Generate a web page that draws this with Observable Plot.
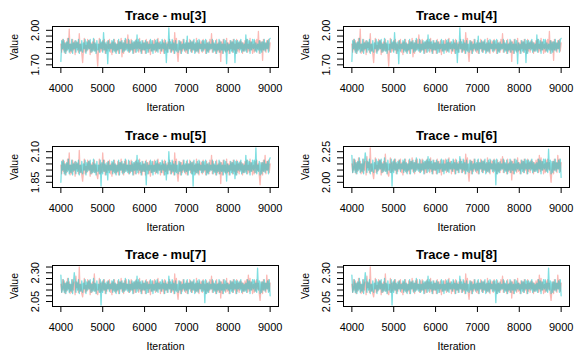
<!DOCTYPE html>
<html><head><meta charset="utf-8">
<script src="https://cdn.jsdelivr.net/npm/d3@7"></script>
<script src="https://cdn.jsdelivr.net/npm/@observablehq/plot@0.6"></script>
<style>
html,body{margin:0;padding:0;background:#fff;}
#grid{position:relative;width:582px;height:359px;overflow:hidden;}
.panel{position:absolute;}
</style></head><body><div id="grid"></div>
<script>
const iterStart = 4000, iterEnd = 9000;
const xTicks = [4000, 5000, 6000, 7000, 8000, 9000];
const chainNames = ["chain 1", "chain 2"];
const chainColors = ["#F8766D", "#00BFC4"];

const mu3_chain1 = [1.88,1.81,1.92,1.83,1.91,1.80,1.89,1.82,1.93,1.84,
 2.01,1.80,1.88,1.81,1.92,1.83,1.90,1.79,1.91,1.85,
 1.89,1.81,1.97,1.82,1.88,1.80,1.72,1.83,1.93,1.81,
 1.87,1.82,1.92,1.84,1.91,1.79,1.89,1.81,1.90,1.83,
 1.92,1.82,1.88,1.80,1.69,1.84,1.93,1.81,1.89,1.82,
 1.91,1.83,1.92,1.80,1.88,1.82,1.91,1.84,1.92,1.81,
 1.89,1.79,1.90,1.83,1.92,1.81,1.88,1.82,1.91,1.80,
 1.90,1.84,1.93,1.77,1.89,1.80,1.91,1.83,1.92,1.84,
 1.96,1.81,1.91,1.82,1.92,1.83,1.89,1.80,1.90,1.81,
 1.92,1.84,1.90,1.81,1.93,1.82,1.88,1.80,1.91,1.83,
 1.89,1.80,1.92,1.84,1.90,1.81,1.91,1.79,1.88,1.82,
 1.91,1.83,1.92,1.81,1.89,1.82,1.93,1.84,1.90,1.80,
 1.88,1.82,1.91,1.80,1.92,1.83,1.89,1.81,1.90,1.84,
 1.92,1.81,1.88,1.82,1.91,1.80,1.98,1.83,1.93,1.81,
 1.73,1.84,1.91,1.80,1.90,1.82,1.92,1.83,1.88,1.81,
 1.91,1.80,1.89,1.84,1.92,1.82,1.90,1.81,1.91,1.83,
 1.88,1.81,1.93,1.82,1.89,1.80,1.91,1.84,1.90,1.81,
 1.92,1.83,1.88,1.80,1.91,1.82,1.89,1.81,1.92,1.84,
 1.97,1.81,1.91,1.83,1.88,1.80,1.92,1.82,1.89,1.81,
 1.91,1.73,1.90,1.80,1.92,1.83,1.88,1.81,1.93,1.82,
 1.89,1.80,1.91,1.84,1.90,1.81,1.92,1.83,1.88,1.80,
 1.92,1.82,1.89,1.81,1.91,1.84,1.90,1.80,1.89,1.82,
 1.91,1.83,1.92,1.81,1.88,1.82,1.93,1.83,1.90,1.80,
 1.88,1.81,1.91,1.82,1.92,1.84,1.99,1.80,1.91,1.83,
 1.90,1.74,1.92,1.83,1.89,1.81,1.91,1.84,1.92,1.82,
 1.89];
const mu3_chain2 = [1.73,1.91,1.84,1.92,1.81,1.89,1.80,1.90,1.83,1.93,
 1.81,1.88,1.82,1.92,1.80,1.89,1.84,1.91,1.81,1.90,
 1.83,1.92,1.80,1.88,1.82,1.91,1.81,1.89,1.84,1.92,
 1.80,1.90,1.83,1.91,1.84,1.92,1.81,1.88,1.82,1.93,
 1.82,1.89,1.80,1.91,1.83,1.88,1.81,1.92,1.84,1.90,
 1.81,1.98,1.83,1.89,1.80,1.90,1.71,1.91,1.82,1.88,
 1.84,1.91,1.81,1.92,1.82,1.89,1.80,1.88,1.83,1.92,
 1.80,1.90,1.84,1.91,1.81,1.89,1.82,1.93,1.83,1.88,
 1.82,1.92,1.81,1.88,1.83,1.91,1.80,1.90,1.84,1.91,
 1.81,1.96,1.82,1.92,1.84,1.90,1.80,1.91,1.83,1.89,
 1.83,1.91,1.80,1.90,1.81,1.88,1.84,1.92,1.82,1.91,
 1.80,1.88,1.83,1.91,1.82,1.92,1.81,1.89,1.84,1.90,
 1.82,1.92,1.84,1.89,1.80,1.91,1.72,1.88,1.81,2.02,
 1.84,1.90,1.81,1.92,1.83,1.89,1.80,1.91,1.82,1.88,
 1.81,1.91,1.83,1.90,1.80,1.88,1.84,1.92,1.82,1.89,
 1.83,1.95,1.80,1.89,1.84,1.91,1.81,1.90,1.83,1.92,
 1.80,1.89,1.82,1.91,1.81,1.92,1.84,1.88,1.82,1.91,
 1.82,1.91,1.84,1.92,1.80,1.89,1.81,1.90,1.83,1.88,
 1.84,1.92,1.81,1.89,1.82,1.91,1.80,1.88,1.83,1.92,
 1.81,1.90,1.83,1.88,1.80,1.92,1.82,1.91,1.71,1.89,
 1.83,1.88,1.80,1.91,1.82,1.90,1.81,1.92,1.72,1.91,
 1.80,1.91,1.84,1.90,1.83,1.92,1.81,1.89,1.82,1.88,
 1.82,1.96,1.81,1.92,1.84,1.91,1.80,1.90,1.83,1.92,
 1.84,1.92,1.82,1.89,1.81,1.88,1.83,1.91,1.80,1.90,
 1.81,1.90,1.83,1.92,1.82,1.89,1.84,1.91,1.81,1.92,
 1.93];
// mu[4] trace is drawn identically to mu[3] in the reference
const mu4_chain1 = mu3_chain1;
const mu4_chain2 = mu3_chain2;

const mu5_chain1 = [1.99,1.92,2.03,1.94,2.02,1.91,2.00,1.93,2.04,1.95,
 2.09,1.91,1.99,1.92,2.03,1.94,2.01,1.90,2.02,1.96,
 2.00,1.92,2.11,1.93,1.99,1.91,1.86,1.94,2.04,1.92,
 1.98,1.93,2.03,1.95,2.02,1.90,2.00,1.92,2.01,1.94,
 2.03,1.93,1.99,1.91,1.88,1.95,2.04,1.92,2.00,1.93,
 2.09,1.94,2.03,1.91,1.99,1.93,2.02,1.95,2.03,1.92,
 2.00,1.90,2.01,1.94,2.03,1.92,1.99,1.93,2.02,1.91,
 2.01,1.95,2.04,1.93,2.00,1.91,2.02,1.94,2.03,1.95,
 1.99,1.92,2.02,1.93,2.03,1.94,2.00,1.91,2.01,1.92,
 2.03,1.95,2.01,1.92,2.04,1.93,1.99,1.91,2.02,1.94,
 2.00,1.91,2.03,1.95,2.01,1.92,2.02,1.90,1.99,1.93,
 2.02,1.94,2.03,1.92,2.00,1.93,2.04,1.95,2.01,1.91,
 1.99,1.93,2.02,1.91,2.03,1.94,2.00,1.92,2.01,1.95,
 2.03,1.92,1.99,1.93,2.02,1.91,2.09,1.94,2.04,1.92,
 1.86,1.95,2.02,1.91,2.01,1.93,2.03,1.94,1.99,1.92,
 2.02,1.91,2.00,1.95,2.03,1.93,2.01,1.92,2.02,1.94,
 1.99,1.92,2.04,1.93,2.00,1.91,2.02,1.95,2.01,1.92,
 2.03,1.94,1.99,1.91,2.02,1.93,2.00,1.92,2.03,1.95,
 2.07,1.92,2.02,1.94,1.99,1.91,2.03,1.93,2.00,1.92,
 2.02,1.84,2.01,1.91,2.03,1.94,1.99,1.92,2.04,1.93,
 2.00,1.91,2.02,1.95,2.01,1.92,2.03,1.94,1.99,1.91,
 2.03,1.93,2.00,1.92,2.02,1.95,2.01,1.91,2.00,1.93,
 2.02,1.94,2.03,1.92,1.99,1.93,2.04,1.94,2.01,1.91,
 1.99,1.92,2.02,1.93,2.03,1.95,2.00,1.91,1.83,1.94,
 2.01,1.91,2.03,1.94,2.07,1.92,2.02,1.95,2.03,1.93,
 2.00];
const mu5_chain2 = [1.85,2.02,1.95,2.03,1.92,2.00,1.91,2.01,1.94,2.04,
 1.92,1.99,1.93,2.03,1.91,2.00,1.95,2.02,1.92,2.01,
 1.94,2.03,1.91,1.99,1.93,2.02,1.92,2.00,1.95,2.03,
 1.91,2.01,1.94,2.02,1.95,2.03,1.92,1.99,1.93,2.04,
 1.93,2.00,1.91,2.02,1.94,1.99,1.92,2.03,1.82,2.01,
 1.92,2.03,1.94,2.00,1.91,2.01,1.87,2.02,1.93,1.99,
 1.95,2.02,1.92,2.03,1.93,2.00,1.91,1.99,1.94,2.03,
 1.91,2.01,1.95,2.02,1.92,2.00,1.93,2.04,1.94,1.99,
 1.93,2.03,1.92,1.99,1.94,2.02,1.91,2.01,1.95,2.02,
 1.92,2.07,1.93,2.03,1.95,2.01,1.91,2.02,1.94,2.00,
 1.94,2.02,1.83,2.01,1.92,1.99,1.95,2.03,1.93,2.02,
 1.91,1.99,1.94,2.02,1.93,2.03,1.92,2.00,1.95,2.01,
 1.93,2.03,1.95,2.00,1.91,2.02,1.87,1.99,1.92,2.10,
 1.95,2.01,1.92,2.03,1.94,2.00,1.91,2.02,1.93,1.99,
 1.92,2.02,1.94,2.01,1.91,1.99,1.95,2.03,1.93,2.00,
 1.94,2.03,1.91,2.00,1.95,2.02,1.92,2.01,1.82,2.03,
 1.91,2.00,1.93,2.02,1.92,2.03,1.95,1.99,1.93,2.02,
 1.93,2.02,1.95,2.03,1.91,2.00,1.92,2.01,1.94,1.99,
 1.95,2.03,1.92,2.00,1.93,2.02,1.91,1.99,1.94,2.03,
 1.92,2.01,1.94,1.99,1.91,2.03,1.93,2.02,1.86,2.00,
 1.94,1.99,1.91,2.02,1.93,2.01,1.92,2.03,1.88,2.02,
 1.91,2.02,1.95,2.01,1.94,2.03,1.92,2.00,1.93,1.99,
 1.93,2.07,1.92,2.03,1.95,2.02,1.91,2.01,1.94,2.03,
 1.95,2.03,1.93,2.13,1.92,1.99,1.94,2.02,1.91,2.01,
 1.92,2.01,1.94,2.03,1.93,2.00,1.95,2.02,1.92,2.03,
 2.05];

const mu6_chain1 = [2.15,2.08,2.19,2.10,2.18,2.07,2.16,2.09,2.20,2.11,
 2.17,2.07,2.15,2.08,2.19,2.10,2.17,2.06,2.21,2.12,
 2.16,2.08,2.28,2.09,2.15,2.07,2.03,2.10,2.20,2.08,
 2.14,2.09,2.19,2.11,2.18,2.06,2.16,2.08,2.17,2.10,
 2.23,2.09,2.15,2.07,2.05,2.11,2.20,2.08,2.16,2.09,
 2.18,2.10,2.19,2.07,2.15,2.09,2.18,2.11,2.19,2.08,
 2.16,2.06,2.17,2.10,2.19,2.08,2.15,2.09,2.18,2.07,
 2.17,2.11,2.20,2.09,2.16,2.07,2.18,2.10,2.19,2.11,
 2.15,2.08,2.18,2.09,2.19,2.10,2.16,2.07,2.17,2.08,
 2.19,2.11,2.17,2.08,2.20,2.09,2.15,2.07,2.18,2.10,
 2.16,2.07,2.19,2.11,2.17,2.08,2.18,2.06,2.15,2.09,
 2.18,2.10,2.19,2.08,2.16,2.09,2.20,2.11,2.17,2.07,
 2.15,2.09,2.18,2.07,2.19,2.10,2.16,2.08,2.17,2.11,
 2.19,2.08,2.15,2.09,2.18,2.07,2.23,2.10,2.20,2.08,
 2.01,2.11,2.18,2.07,2.17,2.09,2.19,2.10,2.15,2.08,
 2.18,2.07,2.16,2.11,2.19,2.09,2.17,2.08,2.18,2.10,
 2.15,2.08,2.20,2.09,2.16,2.07,2.18,2.11,2.17,2.08,
 2.19,2.10,2.15,2.07,2.18,2.09,2.16,2.08,2.19,2.11,
 2.21,2.08,2.18,2.10,2.15,2.07,2.19,2.09,2.16,2.08,
 2.18,2.02,2.17,2.07,2.19,2.10,2.15,2.08,2.20,2.09,
 2.16,2.07,2.18,2.11,2.17,2.08,2.19,2.10,2.15,2.07,
 2.19,2.09,2.16,2.08,2.18,2.11,2.17,2.07,2.16,2.09,
 2.18,2.10,2.19,2.08,2.22,2.09,2.20,2.10,2.17,2.07,
 2.15,2.08,2.18,2.09,2.19,2.11,2.16,2.07,2.00,2.10,
 2.17,2.07,2.19,2.10,2.16,2.08,2.22,2.11,2.19,2.09,
 2.16];
const mu6_chain2 = [2.22,2.08,2.11,2.19,2.08,2.16,2.07,2.17,2.10,2.20,
 2.08,2.15,2.09,2.19,2.07,2.16,2.24,2.18,2.08,2.17,
 2.10,2.19,2.07,2.15,2.09,2.18,2.08,2.16,2.11,2.19,
 2.07,2.17,2.10,2.18,2.11,2.19,2.08,2.15,2.09,2.20,
 2.09,2.16,2.07,2.18,2.10,2.15,2.08,2.19,1.97,2.17,
 2.08,2.19,2.10,2.16,2.07,2.17,2.11,2.18,2.09,2.15,
 2.11,2.18,2.08,2.19,2.09,2.16,2.07,2.15,2.10,2.19,
 2.07,2.17,2.11,2.18,2.08,2.16,2.09,2.20,2.10,2.15,
 2.09,2.19,2.08,2.15,2.10,2.18,2.07,2.17,2.11,2.18,
 2.08,2.21,2.09,2.19,2.11,2.17,2.07,2.18,2.10,2.16,
 2.10,2.18,2.07,2.17,2.08,2.15,2.11,2.19,2.09,2.18,
 2.07,2.15,2.10,2.18,2.09,2.19,2.08,2.16,2.11,2.17,
 2.09,2.19,2.11,2.16,2.07,2.18,2.10,2.15,2.08,2.21,
 2.11,2.17,2.08,2.19,2.10,2.16,2.07,2.18,2.09,2.15,
 2.08,2.18,2.10,2.17,2.07,2.15,2.11,2.19,2.09,2.16,
 2.10,2.19,2.07,2.16,2.11,2.18,2.08,2.17,2.10,2.19,
 2.07,2.16,2.09,2.18,2.08,2.19,2.11,2.15,2.09,2.18,
 2.09,2.18,1.98,2.19,2.07,2.16,2.08,2.17,2.10,2.15,
 2.11,2.19,2.08,2.16,2.09,2.18,2.07,2.15,2.10,2.19,
 2.08,2.17,2.10,2.15,2.07,2.19,2.09,2.18,2.11,2.16,
 2.10,2.15,2.07,2.18,2.09,2.17,2.08,2.19,2.11,2.18,
 2.07,2.18,2.11,2.17,2.10,2.19,2.08,2.16,2.09,2.15,
 2.09,2.16,2.08,2.19,2.11,2.18,2.07,2.17,2.10,2.19,
 2.11,2.19,2.09,2.16,2.08,2.27,2.10,2.18,2.07,2.17,
 2.08,2.17,2.10,2.19,2.09,2.16,2.11,2.18,2.08,2.19,
 2.04];

const mu7_chain1 = [2.20,2.13,2.24,2.15,2.23,2.12,2.21,2.14,2.25,2.16,
 2.22,2.12,2.20,2.13,2.24,2.15,2.22,2.11,2.27,2.17,
 2.21,2.13,2.35,2.14,2.20,2.12,2.09,2.15,2.25,2.13,
 2.19,2.14,2.24,2.16,2.23,2.11,2.21,2.13,2.22,2.15,
 2.29,2.14,2.20,2.12,2.11,2.16,2.25,2.13,2.21,2.14,
 2.23,2.15,2.24,2.12,2.20,2.14,2.23,2.16,2.24,2.13,
 2.21,2.11,2.22,2.15,2.24,2.13,2.20,2.14,2.23,2.12,
 2.22,2.16,2.25,2.14,2.21,2.12,2.23,2.15,2.24,2.16,
 2.20,2.13,2.23,2.14,2.24,2.15,2.21,2.12,2.22,2.13,
 2.24,2.16,2.22,2.13,2.25,2.14,2.20,2.12,2.23,2.15,
 2.21,2.12,2.24,2.16,2.22,2.13,2.23,2.11,2.20,2.14,
 2.23,2.15,2.24,2.13,2.21,2.14,2.25,2.16,2.22,2.12,
 2.20,2.14,2.23,2.12,2.24,2.15,2.21,2.13,2.22,2.16,
 2.24,2.13,2.20,2.14,2.23,2.12,2.29,2.15,2.25,2.13,
 2.07,2.16,2.23,2.12,2.22,2.14,2.24,2.15,2.20,2.13,
 2.23,2.12,2.21,2.16,2.24,2.14,2.22,2.13,2.23,2.15,
 2.20,2.13,2.25,2.14,2.21,2.12,2.23,2.16,2.22,2.13,
 2.24,2.15,2.20,2.12,2.23,2.14,2.21,2.13,2.24,2.16,
 2.27,2.13,2.23,2.15,2.20,2.12,2.24,2.14,2.21,2.13,
 2.23,2.08,2.22,2.12,2.24,2.15,2.20,2.13,2.25,2.14,
 2.21,2.12,2.23,2.16,2.22,2.13,2.24,2.15,2.20,2.12,
 2.24,2.14,2.21,2.13,2.23,2.16,2.22,2.12,2.21,2.14,
 2.23,2.15,2.24,2.13,2.28,2.14,2.25,2.15,2.22,2.12,
 2.20,2.13,2.23,2.14,2.24,2.16,2.21,2.12,2.06,2.15,
 2.22,2.12,2.24,2.15,2.21,2.13,2.28,2.16,2.24,2.14,
 2.21];
const mu7_chain2 = [2.28,2.13,2.16,2.24,2.13,2.21,2.12,2.22,2.15,2.25,
 2.13,2.20,2.14,2.24,2.12,2.21,2.30,2.23,2.13,2.22,
 2.15,2.24,2.12,2.20,2.14,2.23,2.13,2.21,2.16,2.24,
 2.12,2.22,2.15,2.23,2.16,2.24,2.13,2.20,2.14,2.25,
 2.14,2.21,2.12,2.23,2.15,2.20,2.13,2.24,2.02,2.22,
 2.13,2.24,2.15,2.21,2.12,2.22,2.16,2.23,2.14,2.20,
 2.16,2.23,2.13,2.24,2.14,2.21,2.12,2.20,2.15,2.24,
 2.12,2.22,2.16,2.23,2.13,2.21,2.14,2.25,2.15,2.20,
 2.14,2.24,2.13,2.20,2.15,2.23,2.12,2.22,2.16,2.23,
 2.13,2.27,2.14,2.24,2.16,2.22,2.12,2.23,2.15,2.21,
 2.15,2.23,2.12,2.22,2.13,2.20,2.16,2.24,2.14,2.23,
 2.12,2.20,2.15,2.23,2.14,2.24,2.13,2.21,2.16,2.22,
 2.14,2.24,2.16,2.21,2.12,2.23,2.15,2.20,2.13,2.27,
 2.16,2.22,2.13,2.24,2.15,2.21,2.12,2.23,2.14,2.20,
 2.13,2.23,2.15,2.22,2.12,2.20,2.16,2.24,2.14,2.21,
 2.15,2.24,2.12,2.21,2.16,2.23,2.13,2.22,2.15,2.24,
 2.12,2.21,2.14,2.23,2.13,2.24,2.16,2.20,2.14,2.23,
 2.14,2.23,2.04,2.24,2.12,2.21,2.13,2.22,2.15,2.20,
 2.16,2.24,2.13,2.21,2.14,2.23,2.12,2.20,2.15,2.24,
 2.13,2.22,2.15,2.20,2.12,2.24,2.14,2.23,2.16,2.21,
 2.15,2.20,2.12,2.23,2.14,2.22,2.13,2.24,2.16,2.23,
 2.12,2.23,2.16,2.22,2.15,2.24,2.13,2.21,2.14,2.20,
 2.14,2.21,2.13,2.24,2.16,2.23,2.12,2.22,2.15,2.24,
 2.16,2.24,2.14,2.21,2.13,2.34,2.15,2.23,2.12,2.22,
 2.13,2.22,2.15,2.24,2.14,2.21,2.16,2.23,2.13,2.24,
 2.10];
// mu[8] trace is drawn identically to mu[7] in the reference
const mu8_chain1 = mu7_chain1;
const mu8_chain2 = mu7_chain2;

const mu3_yTicks = [1.70,1.75,1.80,1.85,1.90,1.95,2.00];
const mu3_yLabels = [1.70, 2.00];
const mu5_yTicks = [1.85,1.90,1.95,2.00,2.05,2.10];
const mu5_yLabels = [1.85, 2.10];
const mu6_yTicks = [2.00,2.05,2.10,2.15,2.20,2.25];
const mu6_yLabels = [2.00, 2.25];
const mu7_yTicks = [2.05,2.10,2.15,2.20,2.25,2.30,2.35];
const mu7_yLabels = [2.05, 2.30];

const panels = [
  {name: "mu[3]", chains: [mu3_chain1, mu3_chain2], ticks: mu3_yTicks, labels: mu3_yLabels},
  {name: "mu[4]", chains: [mu4_chain1, mu4_chain2], ticks: mu3_yTicks, labels: mu3_yLabels},
  {name: "mu[5]", chains: [mu5_chain1, mu5_chain2], ticks: mu5_yTicks, labels: mu5_yLabels},
  {name: "mu[6]", chains: [mu6_chain1, mu6_chain2], ticks: mu6_yTicks, labels: mu6_yLabels},
  {name: "mu[7]", chains: [mu7_chain1, mu7_chain2], ticks: mu7_yTicks, labels: mu7_yLabels},
  {name: "mu[8]", chains: [mu8_chain1, mu8_chain2], ticks: mu7_yTicks, labels: mu7_yLabels}
];

const font = "'Liberation Sans', Arial, Helvetica, sans-serif";
const grid = document.getElementById("grid");
const PAD = 0.04; // R's default axis extension
const centered = {textAnchor: "middle", lineAnchor: "middle"};

panels.forEach((p, k) => {
  const col = k % 2, row = Math.floor(k / 2);
  const rows = [];
  p.chains.forEach((vals, c) => {
    const step = (iterEnd - iterStart) / (vals.length - 1);
    vals.forEach((v, i) => rows.push({iter: iterStart + i * step, value: v, chain: chainNames[c]}));
  });
  const [y0, y1] = d3.extent(rows, d => d.value);
  const ry = (y1 - y0) * PAD, rx = (iterEnd - iterStart) * PAD;
  const svg = Plot.plot({
    width: 291, height: 120,
    marginTop: 26, marginBottom: 53, marginLeft: 52, marginRight: 13,
    style: {fontFamily: font, fontSize: "11px", color: "black", background: "white", overflow: "visible"},
    x: {domain: [iterStart - rx, iterEnd + rx]},
    y: {domain: [y0 - ry, y1 + ry]},
    marks: [
      ...chainNames.map((cn, c) => Plot.lineY(rows.filter(d => d.chain === cn), {
        x: "iter", y: "value", stroke: chainColors[c], strokeOpacity: 0.5, strokeWidth: 1.3
      })),
      Plot.frame({stroke: "black"}),
      Plot.axisX(xTicks, {tickSize: 6, tickPadding: 11, fontSize: 11, label: null, tickFormat: d => String(d)}),
      Plot.axisY(p.ticks, {tickSize: 6, tickFormat: () => "", label: null}),
      Plot.text(p.labels, {y: d => d, text: d => d3.format(".2f")(d), frameAnchor: "left", dx: -17, rotate: -90, fontSize: 11, ...centered}),
      Plot.text(["Value"], {frameAnchor: "left", dx: -38, rotate: -90, fontSize: 10.5, ...centered}),
      Plot.text(["Iteration"], {frameAnchor: "bottom", dy: 40, fontSize: 10.5, ...centered}),
      Plot.text([`Trace - ${p.name}`], {frameAnchor: "top", dy: -11, fontSize: 13, fontWeight: "bold", ...centered})
    ]
  });
  const div = document.createElement("div");
  div.className = "panel";
  div.style.left = (col * 291) + "px";
  div.style.top = Math.round(row * 359 / 3) + "px";
  div.appendChild(svg);
  grid.appendChild(div);
});
</script></body></html>
